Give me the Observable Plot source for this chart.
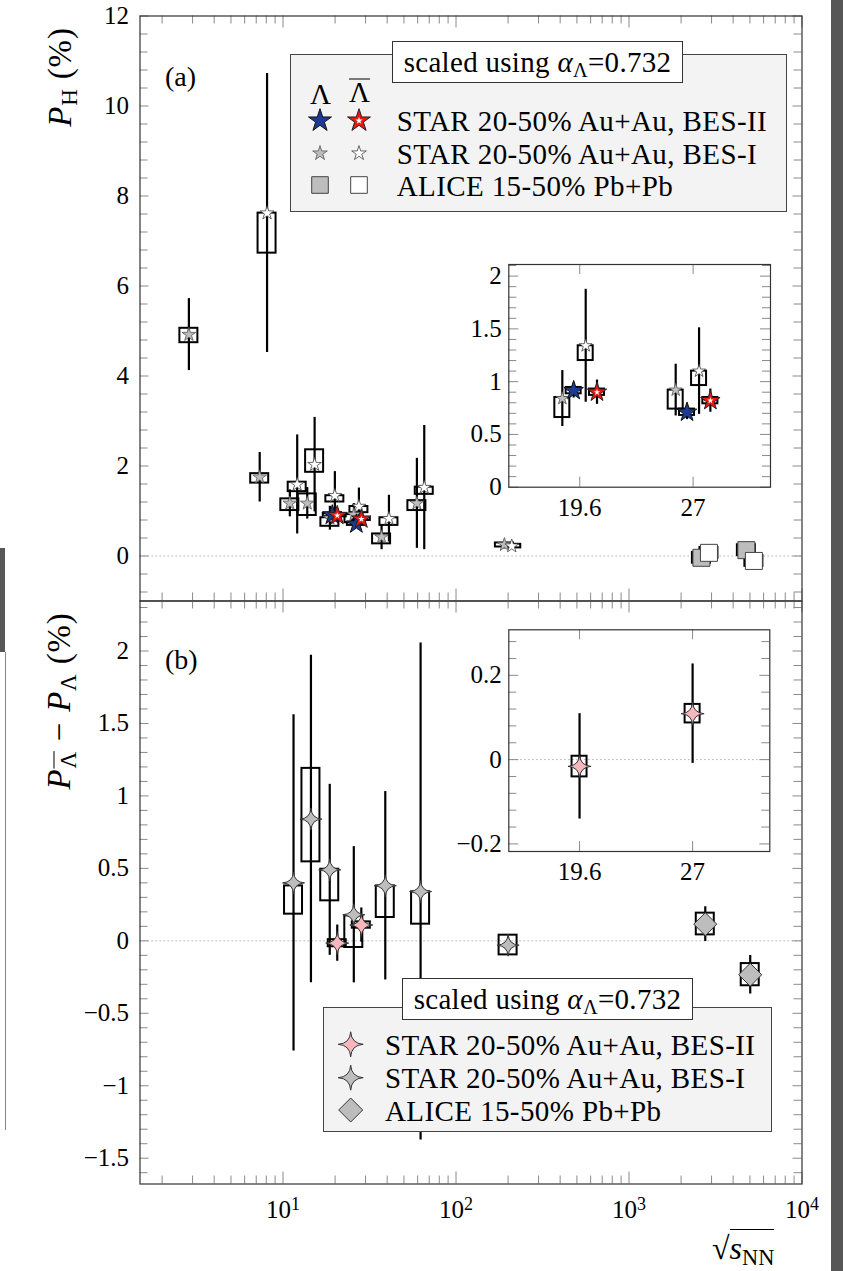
<!DOCTYPE html>
<html>
<head>
<meta charset="utf-8">
<script src="https://cdn.jsdelivr.net/npm/d3@7"></script>
<script src="https://cdn.jsdelivr.net/npm/@observablehq/plot@0.6"></script>
<style>
  html, body { margin: 0; padding: 0; background: #fff; }
  #fig { position: relative; width: 843px; height: 1271px; overflow: hidden;
         font-family: "Liberation Serif", "Times New Roman", serif; color: #000; }
  #fig > svg { position: absolute; overflow: visible; }
  .abs { position: absolute; white-space: nowrap; line-height: 1; }
  .legend { position: absolute; background: #f3f3f3; border: 1px solid #444; box-sizing: border-box; }
  .note { position: absolute; background: #fff; border: 1px solid #333; box-sizing: border-box;
          font-size: 29px; letter-spacing: 0.3px; text-align: center; white-space: nowrap; }
  .note > span { position: absolute; left: 50%; top: 50%; transform: translate(-50%, -50%); line-height: 1; }
  .row { position: absolute; font-size: 29px; letter-spacing: 0.4px; white-space: nowrap;
         transform: translateY(-50%); line-height: 1; }
  sub { font-size: 0.7em; vertical-align: -0.28em; line-height: 0; }
  .ov { text-decoration: overline; text-decoration-thickness: 1px; }
  .bar { display: inline-block; border-top: 1.5px solid #000; line-height: 0.72; padding-top: 2px; }
  .ylab { position: absolute; font-size: 33px; letter-spacing: 0.8px; white-space: nowrap; line-height: 1;
          transform: translate(-50%, -50%) rotate(-90deg); }
  .op { margin: 0 0.3em; }
  .strip { position: absolute; background: #575757; }
</style>
</head>
<body>
<div id="fig"></div>
<script>
// ---------------------------------------------------------------------------
// Global hyperon polarization P_H (%) versus collision energy sqrt(s_NN) (GeV)
// ---------------------------------------------------------------------------

// STAR BES-I, Lambda (20-50% Au+Au)
const energyBes1L  = [3, 7.7, 11.5, 14.5, 19.6, 27, 39, 62.4, 200];
const polBes1L     = [4.92, 1.75, 1.17, 1.17, 0.84, 0.92, 0.42, 1.17, 0.25];
const statBes1L    = [0.80, 0.55, 0.30, 0.35, 0.265, 0.245, 0.28, 1.00, 0.03];
const sysLoBes1L   = [4.74, 1.62, 1.01, 0.90, 0.66, 0.74, 0.27, 1.01, 0.20];
const sysHiBes1L   = [5.06, 1.83, 1.27, 1.38, 0.85, 0.92, 0.49, 1.23, 0.29];

// STAR BES-I, anti-Lambda
const energyBes1Lbar = [7.7, 11.5, 14.5, 19.6, 27, 39, 62.4, 200];
const polBes1Lbar    = [7.62, 1.59, 2.03, 1.34, 1.10, 0.83, 1.52, 0.22];
const statBes1Lbar   = [3.10, 1.10, 1.05, 0.535, 0.41, 0.52, 1.38, 0.03];
const sysLoBes1Lbar  = [6.73, 1.43, 1.86, 1.20, 0.963, 0.68, 1.37, 0.18];
const sysHiBes1Lbar  = [7.62, 1.64, 2.36, 1.34, 1.10, 0.85, 1.53, 0.26];

// STAR BES-II
const energyBes2     = [19.6, 27];
const polBes2L       = [0.915, 0.71];
const statBes2L      = [0.07, 0.07];
const polBes2Lbar    = [0.90, 0.82];
const statBes2Lbar   = [0.115, 0.11];
const sysBes2        = [0.03, 0.03];

// ALICE 15-50% Pb+Pb
const energyAlice    = [2760, 5020];
const polAliceL      = [-0.04, 0.13];
const polAliceLbar   = [0.07, -0.11];
const statAlice      = [0.10, 0.10];
const sysAlice       = [0.12, 0.12];

// Difference P_Lbar - P_L (%)
const energyDiffBes1 = [11.5, 14.5, 19.6, 27, 39, 62.4, 200];
const diffBes1       = [0.40, 0.84, 0.49, 0.18, 0.38, 0.34, -0.03];
const statDiffBes1   = [1.16, 1.13, 0.59, 0.47, 0.65, 1.715, 0.05];
const sysLoDiffBes1  = [0.184, 0.545, 0.276, -0.046, 0.161, 0.115, -0.097];
const sysHiDiffBes1  = [0.379, 1.19, 0.494, 0.172, 0.379, 0.338, 0.039];

const diffBes2       = [-0.016, 0.109];
const statDiffBes2   = [0.125, 0.118];
const sysLoDiffBes2  = [-0.041, 0.087];
const sysHiDiffBes2  = [0.008, 0.131];

const diffAlice      = [0.115, -0.234];
const statDiffAlice  = [0.12, 0.133];
const sysLoDiffAlice = [0.041, -0.31];
const sysHiDiffAlice = [0.191, -0.157];

// Axis ticks and labels
const xMajorTicks   = [10, 100, 1000, 10000];
const yTicksTop     = [0, 2, 4, 6, 8, 10, 12];
const yTicksBottom  = [-1.5, -1, -0.5, 0, 0.5, 1, 1.5, 2];
const yTicksInsetA  = [0, 0.5, 1, 1.5, 2];
const yTicksInsetB  = [-0.2, 0, 0.2];
const xTicksInset   = [19.6, 27];
const noteText      = "scaled using";
const alphaValue    = "0.732";
const legendTop     = ["STAR 20-50% Au+Au, BES-II", "STAR 20-50% Au+Au, BES-I", "ALICE 15-50% Pb+Pb"];
const legendBottom  = ["STAR 20-50% Au+Au, BES-II", "STAR 20-50% Au+Au, BES-I", "ALICE 15-50% Pb+Pb"];

// ---------------------------------------------------------------------------
// styling
const GRAY = "#bdbdbd", BLUE = "#1d3a92", RED = "#e8170f", PINK = "#f8b7ba";
const FRAME = "#333", TICK = "#8a8a8a";
const FONT = "'Liberation Serif', 'Times New Roman', serif";
const TICK_FONT = "25px";
const xDomain = [1.49, 10000];
const FL = 139.5, FR = 801.5, W = 843, PW = FR - FL;

const plotStyle = {background: "transparent", fontFamily: FONT, fontSize: TICK_FONT, overflow: "visible", color: "#000"};
const axisText = {fontSize: 25, fontFamily: FONT, fill: "#000", label: null};
const fmt = d => (d < 0 ? "\u2212" : "") + Math.abs(d);

// symbols
const star4 = { draw(ctx, size) {
  const R = Math.sqrt(size / Math.PI), c = 0.06 * R;
  ctx.moveTo(0, -R);
  ctx.quadraticCurveTo(c, -c, R, 0);
  ctx.quadraticCurveTo(c, c, 0, R);
  ctx.quadraticCurveTo(-c, c, -R, 0);
  ctx.quadraticCurveTo(-c, -c, 0, -R);
  ctx.closePath();
}};
const diamond = { draw(ctx, size) {
  const R = Math.sqrt(size / Math.PI);
  ctx.moveTo(0, -R); ctx.lineTo(R, 0); ctx.lineTo(0, R); ctx.lineTo(-R, 0); ctx.closePath();
}};
const square = { draw(ctx, size) {
  const R = Math.sqrt(size / Math.PI);
  ctx.rect(-R, -R, 2 * R, 2 * R);
}};

// records
function rows(energy, value, stat, lo, hi, shift) {
  return energy.map((e, i) => ({
    e, x: e * shift(e), v: value[i], err: stat[i],
    lo: lo ? lo[i] : value[i], hi: hi ? hi[i] : value[i]
  }));
}
const hasBes2 = e => energyBes2.includes(e);

const sTopL    = rows(energyBes1L, polBes1L, statBes1L, sysLoBes1L, sysHiBes1L, () => 0.952);
const sTopLbar = rows(energyBes1Lbar, polBes1Lbar, statBes1Lbar, sysLoBes1Lbar, sysHiBes1Lbar, e => hasBes2(e) ? 1.017 : 1.05);
const sBes2L   = rows(energyBes2, polBes2L, statBes2L, polBes2L.map((v, i) => v - sysBes2[i]), polBes2L.map((v, i) => v + sysBes2[i]), () => 0.983);
const sBes2Lb  = rows(energyBes2, polBes2Lbar, statBes2Lbar, polBes2Lbar.map((v, i) => v - sysBes2[i]), polBes2Lbar.map((v, i) => v + sysBes2[i]), () => 1.05);
const sAliceL  = rows(energyAlice, polAliceL, statAlice, polAliceL.map((v, i) => v - sysAlice[i]), polAliceL.map((v, i) => v + sysAlice[i]), () => 0.95);
const sAliceLb = rows(energyAlice, polAliceLbar, statAlice, polAliceLbar.map((v, i) => v - sysAlice[i]), polAliceLbar.map((v, i) => v + sysAlice[i]), () => 1.05);

const sDiffBes1  = rows(energyDiffBes1, diffBes1, statDiffBes1, sysLoDiffBes1, sysHiDiffBes1, e => hasBes2(e) ? 0.95 : 1);
const sDiffBes2  = rows(energyBes2, diffBes2, statDiffBes2, sysLoDiffBes2, sysHiDiffBes2, () => 1.05);
const sDiffBes2n = rows(energyBes2, diffBes2, statDiffBes2, sysLoDiffBes2, sysHiDiffBes2, () => 1);
const sDiffAlice = rows(energyAlice, diffAlice, statDiffAlice, sysLoDiffAlice, sysHiDiffAlice, () => 1);

// marks for a list of series: boxes, then error bars, then markers
function seriesMarks(list, boxW) {
  const boxes = list.map(s => Plot.rect(s.data, {x1: "x", x2: "x", y1: "lo", y2: "hi",
    insetLeft: -boxW / 2, insetRight: -boxW / 2, fill: "none", stroke: "#000", strokeWidth: 2}));
  const bars = list.map(s => Plot.ruleX(s.data, {x: "x", y1: d => d.v - d.err, y2: d => d.v + d.err,
    stroke: "#000", strokeWidth: 2.2}));
  const dots = list.flatMap(s => {
    const m = [Plot.dot(s.data, {x: "x", y: "v", symbol: s.symbol, r: s.r, fill: s.fill,
      stroke: s.stroke, strokeWidth: s.sw})];
    if (s.inner) m.push(Plot.dot(s.data, {x: "x", y: "v", symbol: "star", r: s.inner, fill: "#fff", stroke: "none"}));
    return m;
  });
  return [...boxes, ...bars, ...dots];
}

// inward ticks along the frame
function edgeTicks(pw, ph, {yMajor, yMinor, yLen, yMinLen, xMajor, xMinor, xLen, xMinLen}) {
  const st = {stroke: TICK, strokeWidth: 1};
  const m = [];
  if (yMajor) m.push(Plot.tickY(yMajor, {...st, insetRight: pw - yLen}), Plot.tickY(yMajor, {...st, insetLeft: pw - yLen}));
  if (yMinor) m.push(Plot.tickY(yMinor, {...st, insetRight: pw - yMinLen}), Plot.tickY(yMinor, {...st, insetLeft: pw - yMinLen}));
  if (xMajor) m.push(Plot.tickX(xMajor, {...st, insetBottom: ph - xLen}), Plot.tickX(xMajor, {...st, insetTop: ph - xLen}));
  if (xMinor) m.push(Plot.tickX(xMinor, {...st, insetBottom: ph - xMinLen}), Plot.tickX(xMinor, {...st, insetTop: ph - xMinLen}));
  return m;
}
const minorBetween = (lo, hi, step, majors) =>
  d3.range(Math.ceil(lo / step - 1e-9), Math.floor(hi / step + 1e-9) + 1)
    .map(k => +(k * step).toFixed(6)).filter(v => !majors.some(M => Math.abs(M - v) < 1e-9));
const xMinorTicks = [1, 10, 100, 1000].flatMap(k => d3.range(2, 10).map(m => m * k))
  .filter(v => v >= xDomain[0] && v < xDomain[1]);
const zeroLine = {stroke: "#9a9a9a", strokeDasharray: "1.2,2.8", strokeWidth: 1};

const topSeries = [
  {data: sTopL,    symbol: "star", r: 4.3, fill: GRAY, stroke: "#555", sw: 0.8},
  {data: sTopLbar, symbol: "star", r: 4.3, fill: "#fff", stroke: "#444", sw: 0.8},
  {data: sAliceL,  symbol: square, r: 8.5, fill: GRAY, stroke: "#444", sw: 1},
  {data: sAliceLb, symbol: square, r: 8.5, fill: "#fff", stroke: "#444", sw: 1},
  {data: sBes2L,   symbol: "star", r: 6.1, fill: BLUE, stroke: "#111", sw: 1},
  {data: sBes2Lb,  symbol: "star", r: 6.1, fill: RED, stroke: "#222", sw: 1, inner: 2.0}
];

const fig = document.getElementById("fig");
function place(svg, left, top) {
  svg.style.position = "absolute"; svg.style.left = left + "px"; svg.style.top = top + "px";
  svg.style.maxWidth = "none";
  // tick label typeface and size
  d3.select(svg).selectAll("text").style("font-family", FONT).style("font-size", TICK_FONT);
  fig.appendChild(svg);
  return svg;
}

// ---------------- panel (a) ----------------
const topH = 605, topMT = 15.5, topMB = 4.5, topPH = topH - topMT - topMB;
place(Plot.plot({
  width: W, height: topH, marginLeft: FL, marginRight: W - FR, marginTop: topMT, marginBottom: topMB,
  x: {type: "log", domain: xDomain, axis: null},
  y: {domain: [-1, 12]},
  style: plotStyle,
  marks: [
    Plot.ruleY([0], zeroLine),
    ...edgeTicks(PW, topPH, {yMajor: yTicksTop, yMinor: minorBetween(-1, 12, 0.4, yTicksTop), yLen: 9, yMinLen: 8,
      xMajor: xMajorTicks, xMinor: xMinorTicks, xLen: 12, xMinLen: 8}),
    Plot.axisY(yTicksTop, {anchor: "left", tickSize: 0, tickPadding: 11, tickFormat: fmt, ...axisText}),
    ...seriesMarks(topSeries, 18),
    Plot.frame({stroke: FRAME, strokeWidth: 1.2})
  ]
}), 0, 0);

// ---------------- panel (b) ----------------
const botTop = 590, botH = 681, botMT = 10.5, botMB = 87.5, botPH = botH - botMT - botMB;
const botSeries = [
  {data: sDiffBes1,  symbol: star4, r: 11, fill: GRAY, stroke: "#333", sw: 1},
  {data: sDiffAlice, symbol: diamond, r: 11.5, fill: GRAY, stroke: "#333", sw: 1},
  {data: sDiffBes2,  symbol: star4, r: 11.5, fill: PINK, stroke: "#333", sw: 1}
];
const botSvg = place(Plot.plot({
  width: W, height: botH, marginLeft: FL, marginRight: W - FR, marginTop: botMT, marginBottom: botMB,
  x: {type: "log", domain: xDomain},
  y: {domain: [-1.678, 2.345]},
  style: plotStyle,
  marks: [
    Plot.ruleY([0], zeroLine),
    ...edgeTicks(PW, botPH, {yMajor: yTicksBottom, yMinor: minorBetween(-1.678, 2.345, 0.1, yTicksBottom), yLen: 9, yMinLen: 8,
      xMajor: xMajorTicks, xMinor: xMinorTicks, xLen: 12, xMinLen: 8}),
    Plot.axisY(yTicksBottom, {anchor: "left", tickSize: 0, tickPadding: 11, tickFormat: fmt, ...axisText}),
    Plot.axisX(xMajorTicks, {anchor: "bottom", tickSize: 0, tickPadding: 16,
      tickFormat: d => "10^" + Math.round(Math.log10(d)), ...axisText}),
    ...seriesMarks(botSeries, 18),
    Plot.frame({stroke: FRAME, strokeWidth: 1.2})
  ]
}), 0, botTop);

// powers of ten as superscripts
d3.select(botSvg).selectAll("g[aria-label='x-axis tick label'] text").each(function () {
  const [base, exp] = this.textContent.split("^");
  if (exp === undefined) return;
  const t = d3.select(this); t.text(null);
  t.append("tspan").text(base);
  t.append("tspan").attr("dy", "-0.45em").style("font-size", "0.72em").text(exp);
});

// ---------------- insets ----------------
function inset({left, top, w, h, ml, mr, mt, mb, yDomain, yMajor, yMinorStep, series, zero, xPad}) {
  const pw = w - ml - mr, ph = h - mt - mb;
  return place(Plot.plot({
    width: w, height: h, marginLeft: ml, marginRight: mr, marginTop: mt, marginBottom: mb,
    x: {type: "log", domain: [16.04, 33.6]},
    y: {domain: yDomain},
    style: plotStyle,
    marks: [
      Plot.frame({fill: "#fff"}),
      zero ? Plot.ruleY([0], zeroLine) : null,
      ...edgeTicks(pw, ph, {yMajor, yMinor: minorBetween(yDomain[0], yDomain[1], yMinorStep, yMajor), yLen: 10, yMinLen: 8,
        xMajor: xTicksInset, xLen: 10}),
      Plot.axisY(yMajor, {anchor: "left", tickSize: 0, tickPadding: 7, tickFormat: fmt, ...axisText}),
      Plot.axisX(xTicksInset, {anchor: "bottom", tickSize: 0, tickPadding: xPad, tickFormat: d => String(d), ...axisText}),
      ...seriesMarks(series, 15),
      Plot.frame({stroke: FRAME, strokeWidth: 1.2})
    ]
  }), left, top);
}
const inRange = s => ({...s, data: s.data.filter(d => d.x > 16 && d.x < 33.6)});
inset({left: 440, top: 254, w: 345, h: 270, ml: 68.3, mr: 15, mt: 10, mb: 37.3,
  yDomain: [0, 2.11], yMajor: yTicksInsetA, yMinorStep: 0.1, zero: false, xPad: 11,
  series: [topSeries[0], topSeries[1], topSeries[4], topSeries[5]].map(s => inRange({...s, r: s.r === 4.3 ? 4.0 : s.r}))});
inset({left: 440, top: 619, w: 345, h: 270, ml: 68.3, mr: 15.7, mt: 10.3, mb: 38,
  yDomain: [-0.218, 0.308], yMajor: yTicksInsetB, yMinorStep: 0.04, zero: true, xPad: 11,
  series: [{data: sDiffBes2n, symbol: star4, r: 11.5, fill: PINK, stroke: "#333", sw: 1}]});

// ---------------- text: axis titles, panel tags ----------------
function html(str, cls, style) {
  const el = document.createElement("div");
  el.className = cls; el.innerHTML = str; Object.assign(el.style, style);
  fig.appendChild(el); return el;
}
html('<i>P</i><sub>H</sub>&nbsp;(%)', "ylab", {left: "60px", top: "77px"});
html('<i>P</i><sub><span class="ov">Λ</span></sub><span class="op">−</span><i>P</i><sub>Λ</sub>&nbsp;(%)', "ylab", {left: "59px", top: "701px"});
html('(a)', "abs", {left: "165px", top: "63px", fontSize: "28px"});
html('(b)', "abs", {left: "165px", top: "646px", fontSize: "28px"});
html('√<span style="border-top:1.5px solid #000;padding-top:2px;display:inline-block;line-height:1"><i>s</i><sub>NN</sub></span>',
  "abs", {left: "712px", top: "1229px", fontSize: "32px"});

// ---------------- legends ----------------
const noteHTML = `<span>${noteText} <i>α</i><sub>Λ</sub>=${alphaValue}</span>`;
html("", "legend", {left: "289.5px", top: "54px", width: "497px", height: "158px"});
html(noteHTML, "note", {left: "392px", top: "41px", width: "291px", height: "42px"});
html('Λ', "row", {left: "310px", top: "94px"});
html('<span class="bar">Λ</span>', "row", {left: "349px", top: "92px"});
legendTop.forEach((t, i) => html(t, "row", {left: "396.7px", top: [121, 153.5, 185.5][i] + "px"}));

html("", "legend", {left: "323.3px", top: "1006.7px", width: "448.4px", height: "125px"});
html(noteHTML, "note", {left: "401.7px", top: "977.7px", width: "291.6px", height: "42.3px"});
legendBottom.forEach((t, i) => html(t, "row", {left: "385px", top: [1044.5, 1078, 1110.5][i] + "px"}));

// legend symbols
const ls = d3.select(fig).append("svg").attr("width", W).attr("height", 1271)
  .style("position", "absolute").style("left", "0px").style("top", "0px");
function sym(type, r, x, y, fill, stroke, sw) {
  ls.append("path").attr("d", d3.symbol(type, Math.PI * r * r)())
    .attr("transform", `translate(${x},${y})`).attr("fill", fill).attr("stroke", stroke).attr("stroke-width", sw);
}
sym(d3.symbolStar, 7.2, 320, 120.7, BLUE, "#111", 1);
sym(d3.symbolStar, 7.2, 359, 120.7, RED, "#222", 1);
sym(d3.symbolStar, 2.3, 359, 120.7, "#fff", "none", 0);
sym(d3.symbolStar, 4.6, 320, 153.3, GRAY, "#555", 0.8);
sym(d3.symbolStar, 4.6, 359, 153.3, "#fff", "#444", 0.8);
sym(square, 8.3, 320, 185, GRAY, "#444", 1);
sym(square, 8.3, 359, 185, "#fff", "#444", 1);
sym(star4, 12.5, 350.7, 1044.3, PINK, "#333", 1);
sym(star4, 12.5, 350.7, 1077.7, GRAY, "#333", 1);
sym(diamond, 12, 350.7, 1110, GRAY, "#333", 1);

// ---------------- page edges ----------------
html("", "strip", {left: "831px", top: "0px", width: "12px", height: "1271px"});
html("", "strip", {left: "0px", top: "548px", width: "5px", height: "104px"});
html("", "strip", {left: "5px", top: "652px", width: "1px", height: "478px", background: "#888"});
</script>
</body>
</html>
